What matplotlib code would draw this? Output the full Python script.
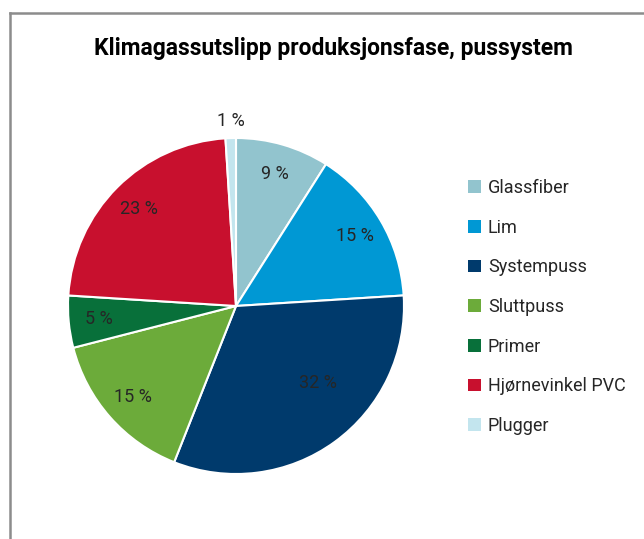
import numpy as np
import matplotlib.pyplot as plt
from matplotlib.patches import Patch
from matplotlib.lines import Line2D

# data
categories = ['Glassfiber', 'Lim', 'Systempuss', 'Sluttpuss', 'Primer',
              'Hjørnevinkel PVC', 'Plugger']
shares = [9, 15, 32, 15, 5, 23, 1]
colors = ['#92C4CE', '#0098D4', '#003A6C', '#6CAB3A', '#08703A',
          '#C8102E', '#C3E5EE']

plt.rcParams['font.family'] = ['Roboto', 'DejaVu Sans']
text_color = '#262626'

fig = plt.figure(figsize=(6.44, 5.39), dpi=100)

# pie axes: centre (236, 306) px, radius 168 px
W, H = 644, 539
ax = fig.add_axes([(236 - 168) / W, (H - 306 - 168) / H, 336 / W, 336 / H])
wedges, _, autotexts = ax.pie(
    shares, colors=colors, startangle=90, counterclock=False,
    autopct=lambda p: f'{p:.0f} %', pctdistance=0.82,
    wedgeprops=dict(edgecolor='white', linewidth=1.5),
    textprops=dict(fontsize=13, color=text_color),
)
ax.set_xlim(-1, 1)
ax.set_ylim(-1, 1)
ax.set_aspect('equal')
ax.axis('off')

# labels that Excel moved away from the default spot
autotexts[2].set_position((0.49, -0.46))
autotexts[6].set_position((-0.03, 1.10))
for t in autotexts:
    t.set_clip_on(False)

# title
fig.text(0.517, 1 - 48 / H, 'Klimagassutslipp produksjonsfase, pussystem',
         ha='center', va='center', fontsize=16.5, fontweight='bold', color='black')

# legend
handles = [Patch(facecolor=c, edgecolor='none') for c in colors]
fig.legend(handles, categories, loc='upper left',
           bbox_to_anchor=(468 / W, 1 - 179 / H), frameon=False,
           fontsize=13, handlelength=0.7, handleheight=0.7,
           handletextpad=0.4, labelspacing=1.2, borderpad=0,
           borderaxespad=0, labelcolor=text_color)

# chart area frame (left and top edges visible)
fig.add_artist(Line2D([10 / W, 10 / W], [0, 1 - 13 / H],
                      transform=fig.transFigure, color='#8C8C8C', lw=1.8))
fig.add_artist(Line2D([10 / W, 1], [1 - 13 / H, 1 - 13 / H],
                      transform=fig.transFigure, color='#8C8C8C', lw=1.8))

plt.savefig('out.png', dpi=100)
